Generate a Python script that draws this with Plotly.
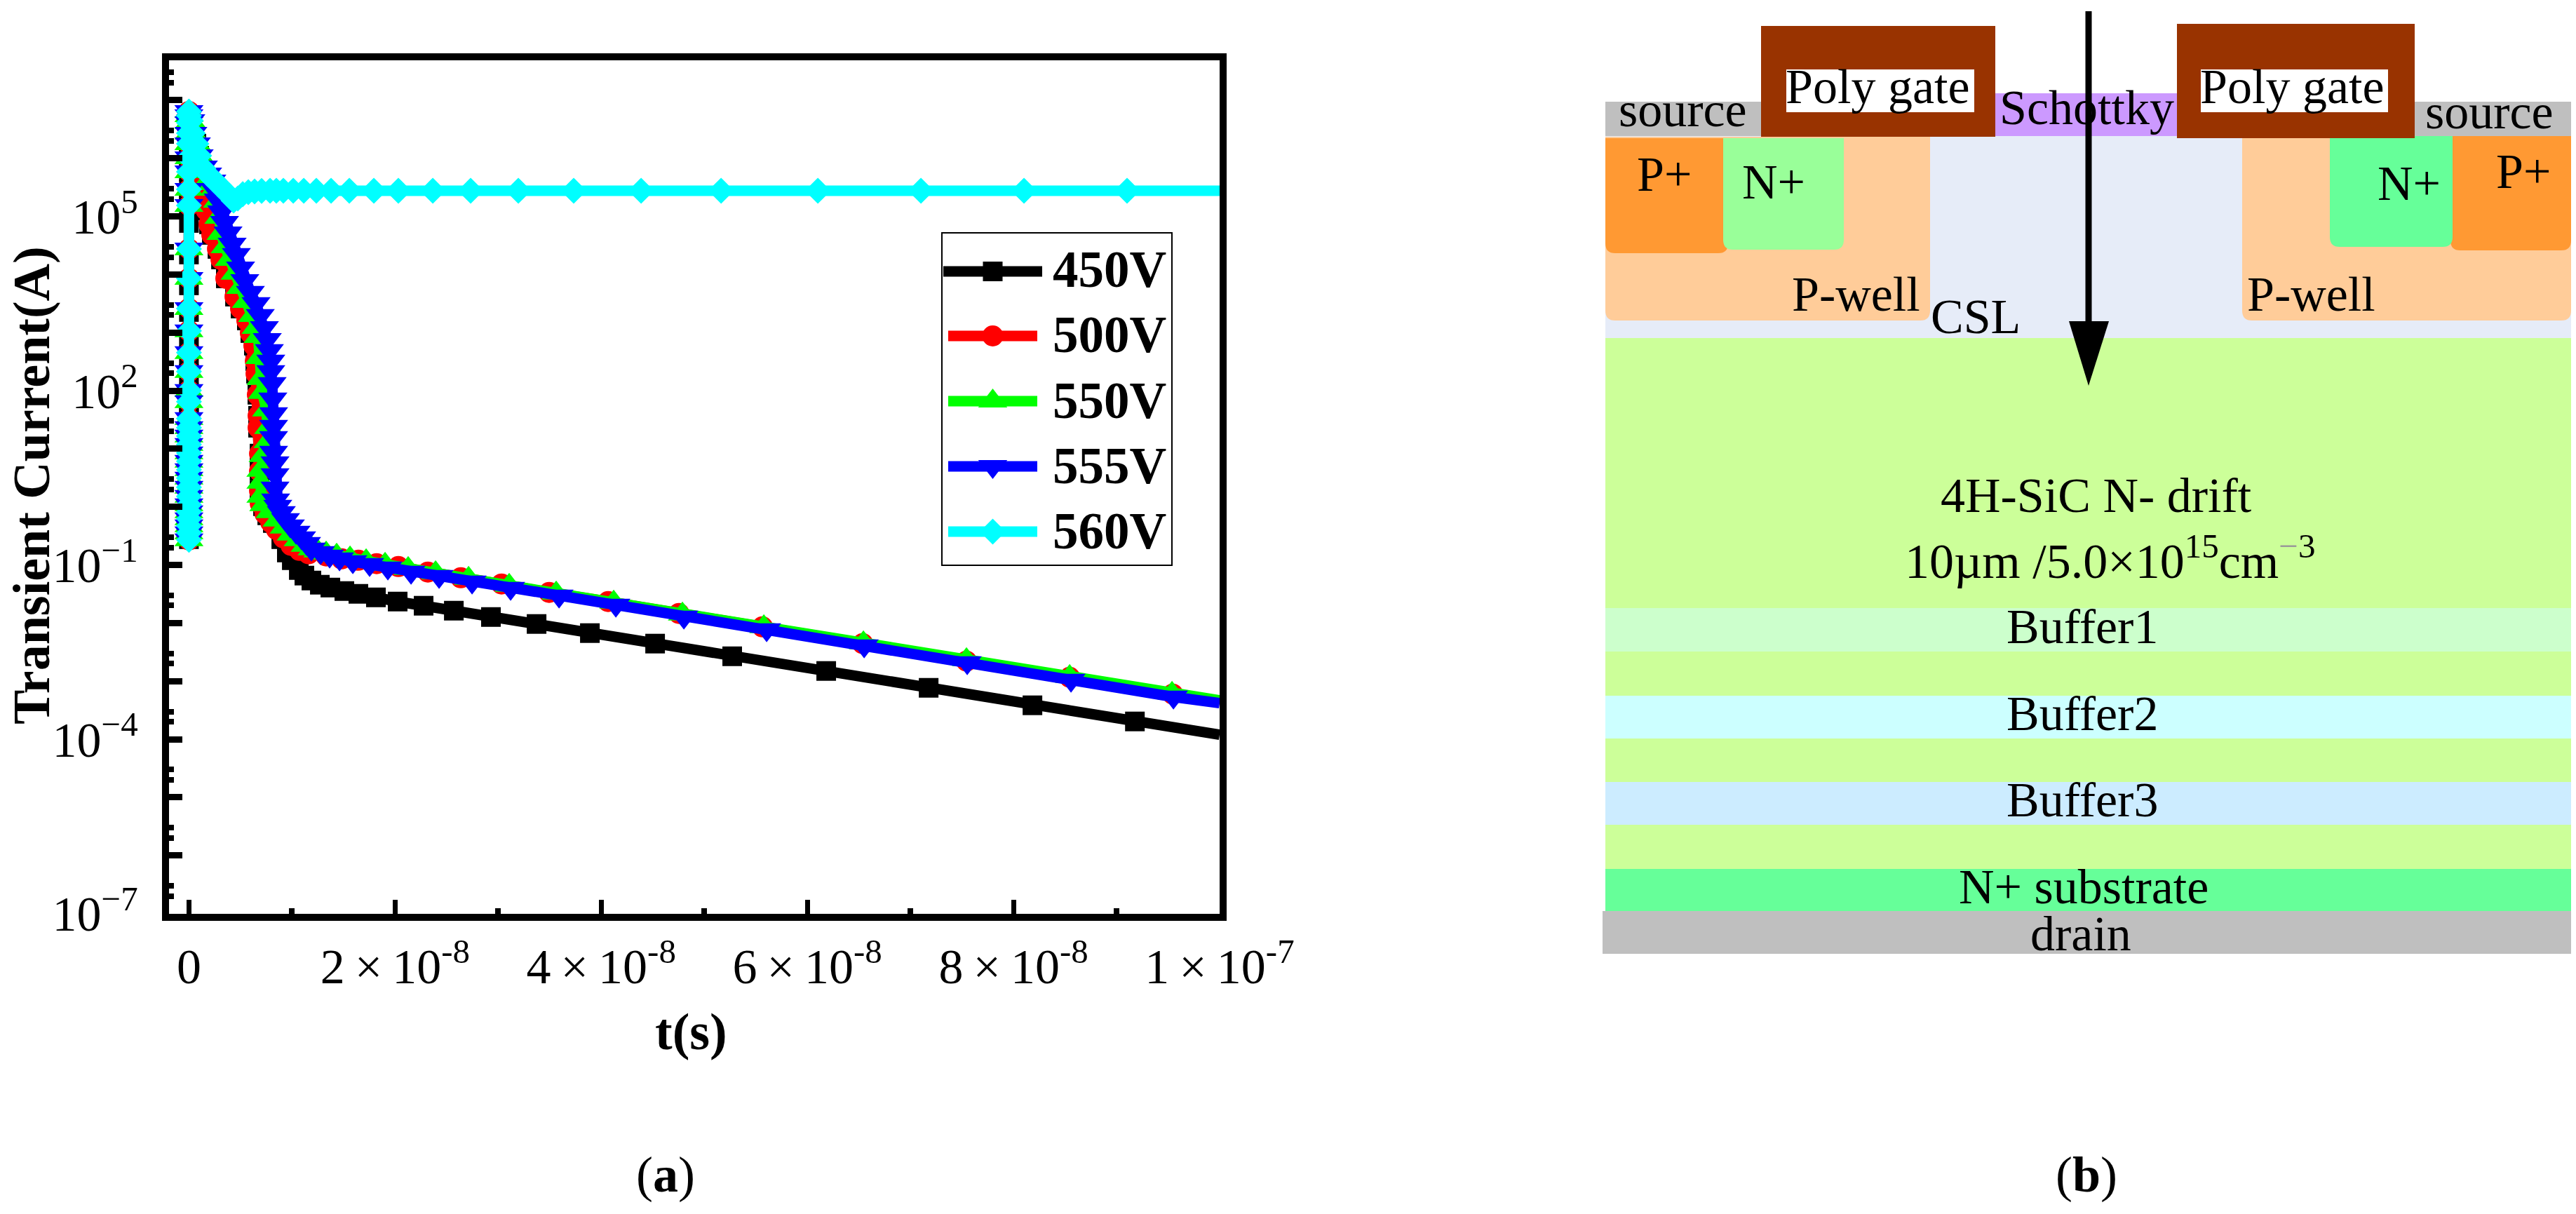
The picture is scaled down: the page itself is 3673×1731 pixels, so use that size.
import plotly.graph_objects as go

# ---------- Panel (a) data: time in ns, log10 of current ----------
column_t = [0.0] * 33
column_log = [-0.568, -0.447, -0.327, -0.206, -0.085, 0.036, 0.181, 0.337, 0.494, 0.639, 0.784,
              0.929, 1.074, 1.218, 1.363, 1.520, 1.810, 2.003, 2.329, 2.655, 3.029, 3.415, 3.934,
              4.441, 5.190, 5.467, 5.769, 6.010, 6.252, 6.433, 6.614, 6.734, 6.807]
column_log_450 = [-0.556, -0.435, -0.314, -0.194, -0.073, 0.048, 0.193, 0.350, 0.506, 0.651, 0.796,
                  0.941, 1.086, 1.231, 1.375, 1.532, 1.725, 1.967, 2.293, 2.607, 2.920, 3.355, 3.814,
                  4.345, 4.888, 5.202, 5.467, 5.769, 6.010, 6.252, 6.433, 6.614, 6.734]

peak_t = [0.18, 0.38, 0.72, 0.99]
peak_log = [6.650, 6.433, 6.252, 6.046]

fall_t = [1.27, 1.47, 1.68, 1.95, 2.22, 2.77, 3.11, 3.58, 4.47, 5.01, 5.62, 5.96, 6.30, 6.44, 6.51,
          6.64, 6.71, 6.71, 6.85, 6.85, 6.85]
fall_log = [5.709, 5.407, 5.105, 4.864, 4.683, 4.441, 4.260, 3.934, 3.620, 3.415, 3.210, 2.993,
            2.776, 2.510, 2.293, 1.931, 1.568, 1.363, 0.917, 0.615, 0.277]

tail_t_450 = [7.19, 7.60, 8.14, 8.96, 9.50, 9.98, 10.66, 11.20, 11.88, 12.70, 13.72, 15.08, 16.44,
              18.14, 20.25, 22.77, 25.70, 29.30, 33.73, 38.90, 45.23, 52.71, 61.83, 71.77, 81.84,
              91.78, 100.0]
tail_log_450 = [0.012, -0.145, -0.278, -0.556, -0.785, -0.918, -1.087, -1.183, -1.268, -1.340,
                -1.389, -1.449, -1.497, -1.558, -1.630, -1.702, -1.787, -1.896, -2.016, -2.173,
                -2.354, -2.572, -2.825, -3.115, -3.416, -3.694, -3.923]

tail_t_500 = [6.92, 7.39, 7.94, 8.48, 9.16, 9.91, 10.73, 11.61, 13.31, 14.81, 16.44, 18.21, 20.32,
              23.18, 26.38, 30.33, 34.95, 40.67, 47.54, 55.64, 65.37, 75.44, 85.45, 95.45, 100.0]
tail_log_500 = [0.060, -0.121, -0.266, -0.387, -0.532, -0.664, -0.749, -0.809, -0.845, -0.894,
                -0.918, -0.978, -1.027, -1.123, -1.220, -1.328, -1.473, -1.630, -1.835, -2.065,
                -2.354, -2.656, -2.934, -3.223, -3.356]

fall_t_550 = [1.40, 1.81, 2.22, 2.49, 2.77, 2.90, 3.11, 3.51, 3.92, 4.47, 5.01, 5.56, 6.17, 6.51,
              6.71, 6.85, 6.98, 7.12, 7.53, 7.73, 7.67, 7.19, 6.98, 6.98, 6.98, 7.26, 7.87, 8.55,
              9.23, 9.91, 10.59, 11.27, 11.95, 12.50, 13.31, 14.33, 15.63, 17.19, 19.03, 21.27,
              23.93, 27.13, 31.07, 35.63, 41.21, 47.88, 55.78, 65.44, 75.44, 85.45, 95.38, 100.0]
fall_log_550 = [5.769, 5.612, 5.564, 5.467, 5.262, 4.984, 4.707, 4.477, 4.260, 4.019, 3.777, 3.536,
                3.294, 3.089, 2.932, 2.570, 2.208, 1.967, 1.665, 1.363, 1.122, 0.881, 0.627, 0.422,
                0.181, 0.036, -0.085, -0.230, -0.351, -0.472, -0.568, -0.664, -0.725, -0.761,
                -0.797, -0.833, -0.882, -0.930, -0.990, -1.063, -1.135, -1.232, -1.352, -1.485,
                -1.642, -1.847, -2.065, -2.342, -2.632, -2.922, -3.211, -3.332]

fall_t_555 = [1.40, 1.81, 2.22, 2.49, 2.83, 3.17, 3.45, 3.79, 4.19, 4.60, 5.01, 5.42, 5.96, 6.51,
              6.92, 7.32, 7.60, 7.80, 7.94, 7.94, 8.07, 8.14, 8.21, 8.21, 8.21, 8.21, 8.35, 8.35,
              8.35, 8.41, 8.62, 8.96, 9.37, 9.84, 10.39, 10.93, 11.41, 11.88, 12.77, 13.65, 14.61,
              15.90, 17.53, 19.30, 21.55, 24.27, 27.47, 31.21, 35.91, 41.42, 48.02, 56.05, 65.51,
              75.51, 85.58, 95.52, 100.0]
fall_log_555 = [5.853, 5.733, 5.612, 5.467, 5.286, 5.081, 4.900, 4.719, 4.526, 4.345, 4.115, 3.898,
                3.693, 3.500, 3.295, 3.089, 2.884, 2.691, 2.510, 2.329, 2.124, 1.858, 1.605, 1.387,
                1.194, 0.941, 0.760, 0.555, 0.325, 0.120, 0.012, -0.097, -0.218, -0.327, -0.435,
                -0.532, -0.628, -0.725, -0.785, -0.845, -0.894, -0.942, -0.990, -1.051, -1.123,
                -1.195, -1.292, -1.401, -1.534, -1.690, -1.896, -2.113, -2.390, -2.680, -2.982,
                -3.272, -3.380]

fall_t_560 = [1.40, 1.81, 2.43, 2.90, 3.45, 3.92, 4.33, 4.74, 5.22, 5.76, 6.37, 7.05, 7.87, 8.48,
              9.16, 10.12, 11.14, 12.36, 13.79, 15.56, 17.94, 20.32, 23.66, 27.33, 31.96, 37.33,
              43.87, 51.63, 61.02, 71.02, 81.02, 91.02, 100.0]
fall_log_560 = [5.829, 5.733, 5.624, 5.540, 5.443, 5.358, 5.274, 5.310, 5.383, 5.419, 5.431, 5.440,
                5.443, 5.443, 5.443, 5.443, 5.443, 5.443, 5.443, 5.443, 5.443, 5.443, 5.443, 5.443,
                5.443, 5.443, 5.443, 5.443, 5.443, 5.443, 5.443, 5.443, 5.443]

series_names = ["450V", "500V", "550V", "555V", "560V"]
series_colors = ["#000000", "#FF0000", "#00FF00", "#0000FF", "#00FFFF"]
series_symbols = ["square", "circle", "triangle-up", "triangle-down", "diamond"]
series_sizes = [28, 30, 36, 36, 28.5]
series_t = [
    column_t + peak_t + fall_t + tail_t_450,
    column_t + peak_t + fall_t + tail_t_500,
    column_t + peak_t + fall_t_550,
    column_t + peak_t + fall_t_555,
    column_t + peak_t + fall_t_560,
]
series_log = [
    column_log_450 + peak_log + fall_log + tail_log_450,
    column_log + peak_log + fall_log + tail_log_500,
    column_log + peak_log + fall_log_550,
    column_log + peak_log + fall_log_555,
    column_log + peak_log + fall_log_560,
]

y_label_exp = {5: "5", 2: "2", -1: "−1", -4: "−4", -7: "−7"}
y_plain_exp = [-6, -5, -3, -2, 0, 1, 3, 4, 6, 7]
x_major = [0, 2e-8, 4e-8, 6e-8, 8e-8, 1e-7]
x_labels = ["0"] + [f"{m}\u2009×\u200910<sup>-8</sup>" for m in (2, 4, 6, 8)] + ["1\u2009×\u200910<sup>-7</sup>"]
x_minor = [1e-8, 3e-8, 5e-8, 7e-8, 9e-8]

SERIF = "Liberation Serif"
W, H = 3673, 1731
LEFT, RIGHT, TOP, BOTTOM = 240.5, 1739.0, 85.5, 1302.5

fig = go.Figure()
for name, color, sym, size, ts, logs in zip(series_names, series_colors, series_symbols,
                                            series_sizes, series_t, series_log):
    fig.add_trace(go.Scatter(
        x=[t * 1e-9 for t in ts], y=[10 ** v for v in logs], name=name, mode="lines+markers",
        line=dict(color=color, width=15), marker=dict(color=color, symbol=sym, size=size),
        cliponaxis=False, showlegend=False,
    ))

# Keeps the overlay axis that carries the unlabelled decade ticks alive
fig.add_trace(go.Scatter(x=[None], y=[None], yaxis="y3", mode="markers", showlegend=False,
                         hoverinfo="skip"))

# ---------- Legend, drawn on an overlay axis in canvas units ----------
legend_rows = [387, 479, 572, 665, 758]
legend_text_y = [384, 477, 571, 664, 757]
legend_line_x = [(1345, 1486), (1352, 1479), (1352, 1479), (1352, 1479), (1352, 1479)]
legend_marker_x = 1415.5
for name, color, sym, size, row, lx in zip(series_names, series_colors, series_symbols,
                                           series_sizes, legend_rows, legend_line_x):
    fig.add_trace(go.Scatter(
        x=[lx[0], lx[1]], y=[row] * 2, xaxis="x2", yaxis="y2", mode="lines",
        line=dict(color=color, width=15), showlegend=False, hoverinfo="skip",
    ))
    fig.add_trace(go.Scatter(
        x=[legend_marker_x], y=[row], xaxis="x2", yaxis="y2", mode="markers",
        marker=dict(color=color, symbol=sym, size=size), showlegend=False, hoverinfo="skip",
    ))

shapes = [dict(type="rect", xref="x2", yref="y2", x0=1343, x1=1671, y0=332, y1=806,
               line=dict(color="black", width=2), fillcolor="white", layer="below")]


def rrect(x0, x1, y0, y1, r, color):
    if r == 0:
        return dict(type="rect", xref="x2", yref="y2", x0=x0, x1=x1, y0=y0, y1=y1,
                    fillcolor=color, line_width=0, layer="below")
    p = (f"M{x0},{y0} L{x1},{y0} L{x1},{y1 - r} Q{x1},{y1} {x1 - r},{y1} "
         f"L{x0 + r},{y1} Q{x0},{y1} {x0},{y1 - r} Z")
    return dict(type="path", xref="x2", yref="y2", path=p, fillcolor=color, line_width=0, layer="below")


# ---------- Panel (b): device cross-section ----------
region_x0 = [2289, 2289, 3197, 2289, 3494, 2457, 3322, 2289, 3443, 2845, 2511, 3104, 2547, 3138,
             2289, 2289, 2289, 2289, 2289, 2285]
region_x1 = [3666, 2752, 3666, 2464, 3666, 2629, 3497, 2511, 3666, 3104, 2845, 3443, 2815, 3405,
             3666, 3666, 3666, 3666, 3666, 3666]
region_y0 = [194, 195, 195, 197, 194, 197, 192, 145, 145, 133, 37, 34, 99, 99,
             482, 867, 992, 1115, 1239, 1299]
region_y1 = [482, 457, 457, 361, 357, 356, 352, 194, 194, 194, 195, 197, 160, 160,
             1239, 929, 1053, 1176, 1299, 1360]
region_r = [0, 14, 14, 14, 14, 14, 14, 0, 0, 0, 0, 0, 0, 0, 0, 0, 0, 0, 0, 0]
region_colors = ["#E6ECF8", "#FFCC99", "#FFCC99", "#FF9933", "#FF9933", "#99FF99", "#66FF99",
                 "#BFBFBF", "#BFBFBF", "#CC99FF", "#993300", "#993300", "#FFFFFF", "#FFFFFF",
                 "#CCFF99", "#CCFFCC", "#CCFFFF", "#CCECFF", "#66FF99", "#BFBFBF"]
for a, b, c, d, r, col in zip(region_x0, region_x1, region_y0, region_y1, region_r, region_colors):
    shapes.append(rrect(a, b, c, d, r, col))

shapes.append(dict(type="line", xref="x2", yref="y2", x0=2978, x1=2978, y0=16, y1=460,
                   line=dict(color="black", width=9)))
shapes.append(dict(type="path", xref="x2", yref="y2", path="M2950,458 L3007,458 L2978,550 Z",
                   fillcolor="black", line_width=0))

label_text = ["Poly gate", "Poly gate", "Schottky", "source", "source", "P+", "P+", "N+", "N+",
              "P-well", "P-well", "CSL", "4H-SiC N- drift",
              "10µm /5.0×10<sup>15</sup>cm<sup><span style='color:#999'>−</span>3</sup>",
              "Buffer1", "Buffer2", "Buffer3", "N+ substrate", "drain"]
label_x = [2677, 3268, 2975, 2399, 3549, 2373, 3598, 2529, 3435, 2646, 3295, 2817, 2989, 3008,
           2969, 2969, 2969, 2971, 2967]
label_y = [123, 123, 153, 156, 159, 248, 244, 259, 261, 419, 419, 451, 706, 795,
           893, 1017, 1140, 1264, 1331]

annotations = []
for t, x, y in zip(label_text, label_x, label_y):
    annotations.append(dict(text=t, x=x, y=y, xref="x2", yref="y2", showarrow=False,
                            xanchor="center", yanchor="middle",
                            font=dict(family=SERIF, size=70, color="black")))
for name, y in zip(series_names, legend_text_y):
    annotations.append(dict(text=f"<b>{name}</b>", x=1499, y=y, xref="x2", yref="y2", showarrow=False,
                            xanchor="left", yanchor="middle",
                            font=dict(family=SERIF, size=73, color="black")))
annotations += [
    dict(text="<b>Transient Current(A)</b>", x=45, y=692, xref="x2", yref="y2", textangle=-90,
         showarrow=False, font=dict(family=SERIF, size=74, color="black")),
    dict(text="<b>t(s)</b>", x=985, y=1471, xref="x2", yref="y2", showarrow=False,
         font=dict(family=SERIF, size=74, color="black")),
    dict(text="(<b>a</b>)", x=949, y=1675, xref="x2", yref="y2", showarrow=False,
         font=dict(family=SERIF, size=72, color="black")),
    dict(text="(<b>b</b>)", x=2975, y=1675, xref="x2", yref="y2", showarrow=False,
         font=dict(family=SERIF, size=72, color="black")),
]

y_tickvals = [10.0 ** e for e in y_label_exp]
y_ticktext = [f"10<sup>{s}</sup>" for s in y_label_exp.values()]
y_plain_vals = [10.0 ** e for e in y_plain_exp]
y_minor = [m * 10.0 ** e for e in range(-7, 8) for m in (2, 3)]
Y_RANGE = [-7, 7.694]

fig.update_layout(
    width=W, height=H, autosize=False, margin=dict(l=0, r=0, t=0, b=0),
    paper_bgcolor="white", plot_bgcolor="rgba(0,0,0,0)", showlegend=False,
    shapes=shapes, annotations=annotations,
    font=dict(family=SERIF, color="black"),
    xaxis=dict(domain=[LEFT / W, RIGHT / W], range=[-1.967e-9, 1e-7], showgrid=False, zeroline=False,
               automargin=False,
               tickmode="array", tickvals=x_major, ticktext=x_labels, ticks="inside", ticklen=20,
               tickwidth=7, tickcolor="black", showline=True, linecolor="black", linewidth=9.5,
               mirror=True, tickfont=dict(family=SERIF, size=70, color="black"), ticklabelstandoff=6,
               minor=dict(tickmode="array", tickvals=x_minor, ticks="inside", ticklen=8, tickwidth=8,
                          tickcolor="black", showgrid=False)),
    yaxis=dict(domain=[1 - BOTTOM / H, 1 - TOP / H], type="log", range=Y_RANGE, showgrid=False,
               automargin=False,
               zeroline=False, tickmode="array", tickvals=y_tickvals, ticktext=y_ticktext,
               ticks="inside", ticklen=20, tickwidth=9, tickcolor="black", showline=True,
               linecolor="black", linewidth=9.5, mirror=True,
               tickfont=dict(family=SERIF, size=70, color="black"), ticklabelstandoff=20,
               minor=dict(tickmode="array", tickvals=y_minor, ticks="inside", ticklen=8, tickwidth=8,
                          tickcolor="black", showgrid=False)),
    yaxis3=dict(overlaying="y", side="left", anchor="x", type="log", range=Y_RANGE, showgrid=False,
                automargin=False, zeroline=False, tickmode="array", tickvals=y_plain_vals,
                showticklabels=False, ticks="inside", ticklen=20, tickwidth=9, tickcolor="black",
                showline=True, linecolor="black", linewidth=9.5),
    xaxis2=dict(domain=[0, 1], range=[0, W], visible=False, anchor="y2", automargin=False),
    yaxis2=dict(domain=[0, 1], range=[H, 0], visible=False, anchor="x2", automargin=False),
)

fig.write_html("out.html", post_script="document.body.style.margin='0';",
               config={"displayModeBar": False})
